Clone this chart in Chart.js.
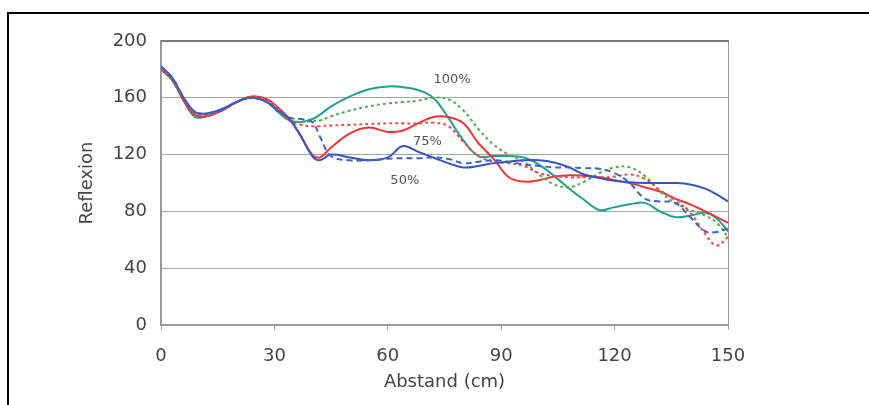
<!DOCTYPE html>
<html>
<head>
<meta charset="utf-8">
<script src="https://cdn.jsdelivr.net/npm/chart.js@4/dist/chart.umd.min.js"></script>
<style>
    html, body { margin: 0; padding: 0; background: #fff; }
    #wrap { position: relative; width: 869px; height: 405px; overflow: hidden; }
    #chart { position: absolute; left: 0; top: 0; }
    #frame {
        position: absolute; left: 7px; top: 12px; right: -10px; bottom: -10px;
        border-top: 2px solid #000; border-left: 2px solid #000; pointer-events: none;
    }
</style>
</head>
<body>
<div id="wrap">
    <canvas id="chart" width="869" height="405"></canvas>
    <div id="frame"></div>
</div>
<script>
// Abstand in cm
const abstand = [0, 3, 6, 9, 12, 16, 20, 24, 28, 31, 34, 37, 40, 42, 45, 50, 55, 60, 64, 68, 72, 76, 80, 84, 88, 92, 96, 100, 104, 108, 112, 116, 120, 124, 128, 132, 136, 140, 144, 147, 150];

const teal100 = [180, 172, 158, 146.5, 147, 151, 157, 160.5, 157, 150, 144, 143, 145, 148, 154, 161, 166, 168, 167.5, 165.5, 160, 146, 130, 119, 119, 119, 118, 113, 105, 96, 88, 81, 83, 85, 86, 80, 76, 77, 79, 75, 66];
const green100 = [180, 173, 160, 149, 148, 151, 157, 160, 157, 150, 144, 143, 143.5, 144, 147, 151, 154, 156, 157, 158, 160, 159, 151, 138, 127, 120, 115, 106, 99, 97, 101, 107, 111, 111, 105, 94, 86, 81, 77, 72, 62];
const red75 = [180, 173, 158, 148, 147, 151, 157, 161, 159, 153, 145, 133, 120, 118, 125, 135, 139, 136, 137, 142, 146.5, 146.5, 142, 128, 117, 104, 101, 102, 104.5, 105.5, 105, 104, 102, 100, 97, 94, 89, 85, 80, 76, 72];
const red75b = [180, 173, 159, 149, 148, 151, 157, 160.5, 158, 152, 144, 141, 140, 140, 140.5, 141, 141.5, 142, 142, 142, 142.5, 140, 129, 119, 115, 114, 112, 107, 105, 104, 104, 104, 104.5, 106, 103, 95, 88, 79, 64, 56, 62];
const blue50 = [182, 174, 160, 150, 149, 152, 157, 160, 157, 151, 145, 133, 119, 116, 120, 118, 116, 118, 126, 122, 118, 114, 111, 112, 114, 115, 116, 116, 114.5, 111, 106, 103.5, 101.5, 100.5, 100, 100, 100, 99, 96, 92, 87];
const blue50b = [182, 174, 160, 150, 149, 151, 157, 160, 157, 151, 146, 145, 143, 133, 119, 116, 116, 117, 117.5, 117.5, 118, 117, 114, 115, 116, 115, 113, 112, 111, 111, 110.5, 110, 107, 100, 89, 87, 86, 76, 66, 65.5, 68];

const yTicks = [0, 40, 80, 120, 160, 200];
const xTicks = [0, 30, 60, 90, 120, 150];

const labelTexts = ['100%', '75%', '50%'];
const labelX = [77, 70.5, 64.5];
const labelY = [172.5, 129, 102];

const toPoints = (values) => values.map((v, i) => ({ x: abstand[i], y: v }));

const line = (values, color, dash) => ({
    data: toPoints(values),
    borderColor: color,
    borderWidth: 2,
    borderDash: dash,
    pointRadius: 0,
    tension: 0.4,
    fill: false
});

const frameLines = {
    id: 'frameLines',
    beforeDatasetsDraw(chart) {
        const { ctx, chartArea: a } = chart;
        ctx.save();
        ctx.strokeStyle = '#9a9a9a';
        ctx.lineWidth = 1;
        ctx.beginPath();
        ctx.moveTo(a.right + 0.5, a.top);
        ctx.lineTo(a.right + 0.5, a.bottom);
        ctx.stroke();
        ctx.strokeStyle = '#7a7a7a';
        ctx.lineWidth = 2;
        ctx.beginPath();
        ctx.moveTo(a.left, a.top);
        ctx.lineTo(a.right + 1, a.top);
        ctx.stroke();
        ctx.restore();
    }
};

const seriesLabels = {
    id: 'seriesLabels',
    afterDatasetsDraw(chart) {
        const { ctx, scales } = chart;
        ctx.save();
        ctx.font = '13px "DejaVu Sans"';
        ctx.fillStyle = '#555';
        ctx.textAlign = 'center';
        ctx.textBaseline = 'middle';
        labelTexts.forEach((t, i) => {
            ctx.fillText(t, scales.x.getPixelForValue(labelX[i]), scales.y.getPixelForValue(labelY[i]));
        });
        ctx.restore();
    }
};

new Chart(document.getElementById('chart'), {
    type: 'line',
    data: {
        datasets: [
            line(blue50b, '#3f63c2', [6, 4]),
            line(blue50, '#3556bd', []),
            line(red75b, '#ef4b4b', [3, 3]),
            line(green100, '#4cae4c', [3, 3]),
            line(red75, '#ee3434', []),
            line(teal100, '#22a08f', [])
        ]
    },
    options: {
        responsive: false,
        animation: false,
        events: [],
        layout: { padding: { top: 41, right: 141, left: 0, bottom: 0 } },
        plugins: { legend: { display: false }, tooltip: { enabled: false } },
        scales: {
            x: {
                type: 'linear',
                min: 0,
                max: 150,
                afterFit: (s) => { s.height = 80; },
                afterBuildTicks: (s) => { s.ticks = xTicks.map((v) => ({ value: v })); },
                grid: { drawOnChartArea: false, tickLength: 5, color: '#a6a6a6' },
                border: { color: '#9a9a9a', width: 2 },
                ticks: { color: '#444', padding: 16, font: { family: 'DejaVu Sans', size: 18 }, maxRotation: 0 },
                title: {
                    display: true,
                    text: 'Abstand (cm)',
                    color: '#444',
                    font: { family: 'DejaVu Sans', size: 18 },
                    padding: { top: 0, bottom: 12 }
                }
            },
            y: {
                min: 0,
                max: 200,
                afterFit: (s) => { s.width = 161; },
                afterBuildTicks: (s) => { s.ticks = yTicks.map((v) => ({ value: v })); },
                grid: { color: '#a6a6a6', drawTicks: false },
                border: { color: '#9a9a9a', width: 2 },
                ticks: { color: '#444', padding: 14, font: { family: 'DejaVu Sans', size: 18 } },
                title: {
                    display: true,
                    text: 'Reflexion',
                    color: '#444',
                    font: { family: 'DejaVu Sans', size: 18 },
                    padding: { top: 77, bottom: 0 }
                }
            }
        }
    },
    plugins: [frameLines, seriesLabels]
});
</script>
</body>
</html>
